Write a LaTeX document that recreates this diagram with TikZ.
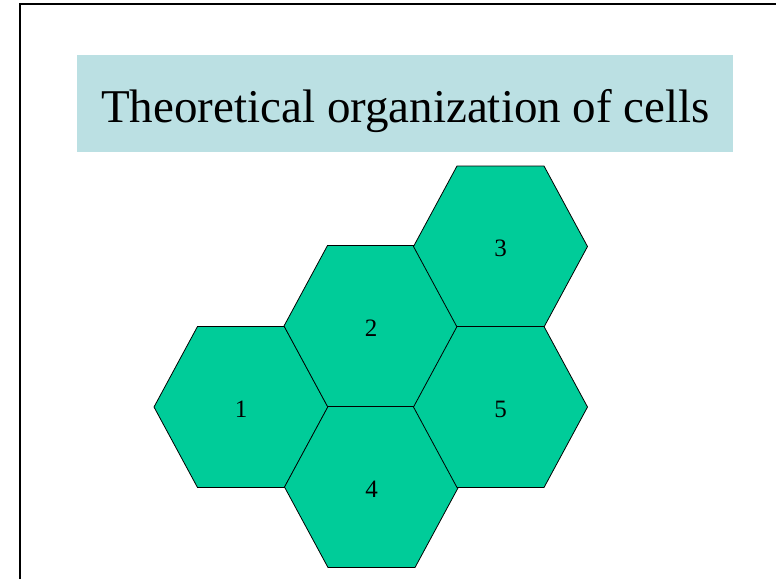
\documentclass[tikz,border=0pt]{standalone}
\usepackage{fontspec}
\setmainfont{Liberation Serif}
\usepackage{tikz}
\usetikzlibrary{positioning}
\definecolor{cellgreen}{RGB}{0,204,153}
\definecolor{titleblue}{RGB}{187,224,227}

\begin{document}
\begin{tikzpicture}[
    x=1pt, y=-1pt,
    frame/.style={draw=black, line width=2.5pt},
    titlebox/.style={rectangle, fill=titleblue, minimum width=656pt, minimum height=97pt,
                     inner sep=0pt},
    titletext/.style={font=\fontsize{47}{56}\selectfont, inner sep=0pt},
    cell/.style={draw=black, fill=cellgreen, line width=0.8pt, line join=miter},
    celllabel/.style={font=\fontsize{25}{30}\selectfont, inner sep=0pt}
]
\useasboundingbox (0,0) rectangle (776,579);

% slide frame
\coordinate (fl) at (20,579);
\coordinate (fc) at (20,4);
\coordinate (fr) at (776,4);
\draw[frame] (fl) -- (fc) -- (fr);

\node[titlebox] (title) at (405,103.5) {};
\node[titletext, anchor=base] (titlelabel) at (405.5,122) {Theoretical organization of cells};

% hexagonal cells
\foreach \n/\x/\y in {1/241/407, 2/371/326, 3/500.5/246.5, 4/371.5/487, 5/500.5/407} {
  \coordinate (c\n) at (\x,\y);
  \draw[cell] (c\n) ++(-87,0) -- ++(43.5,-80.5) -- ++(87,0) -- ++(43.5,80.5)
              -- ++(-43.5,80.5) -- ++(-87,0) -- cycle;
  \node[celllabel] (cell\n) at ([yshift=-2pt]c\n) {\n};
}
\end{tikzpicture}
\end{document}
